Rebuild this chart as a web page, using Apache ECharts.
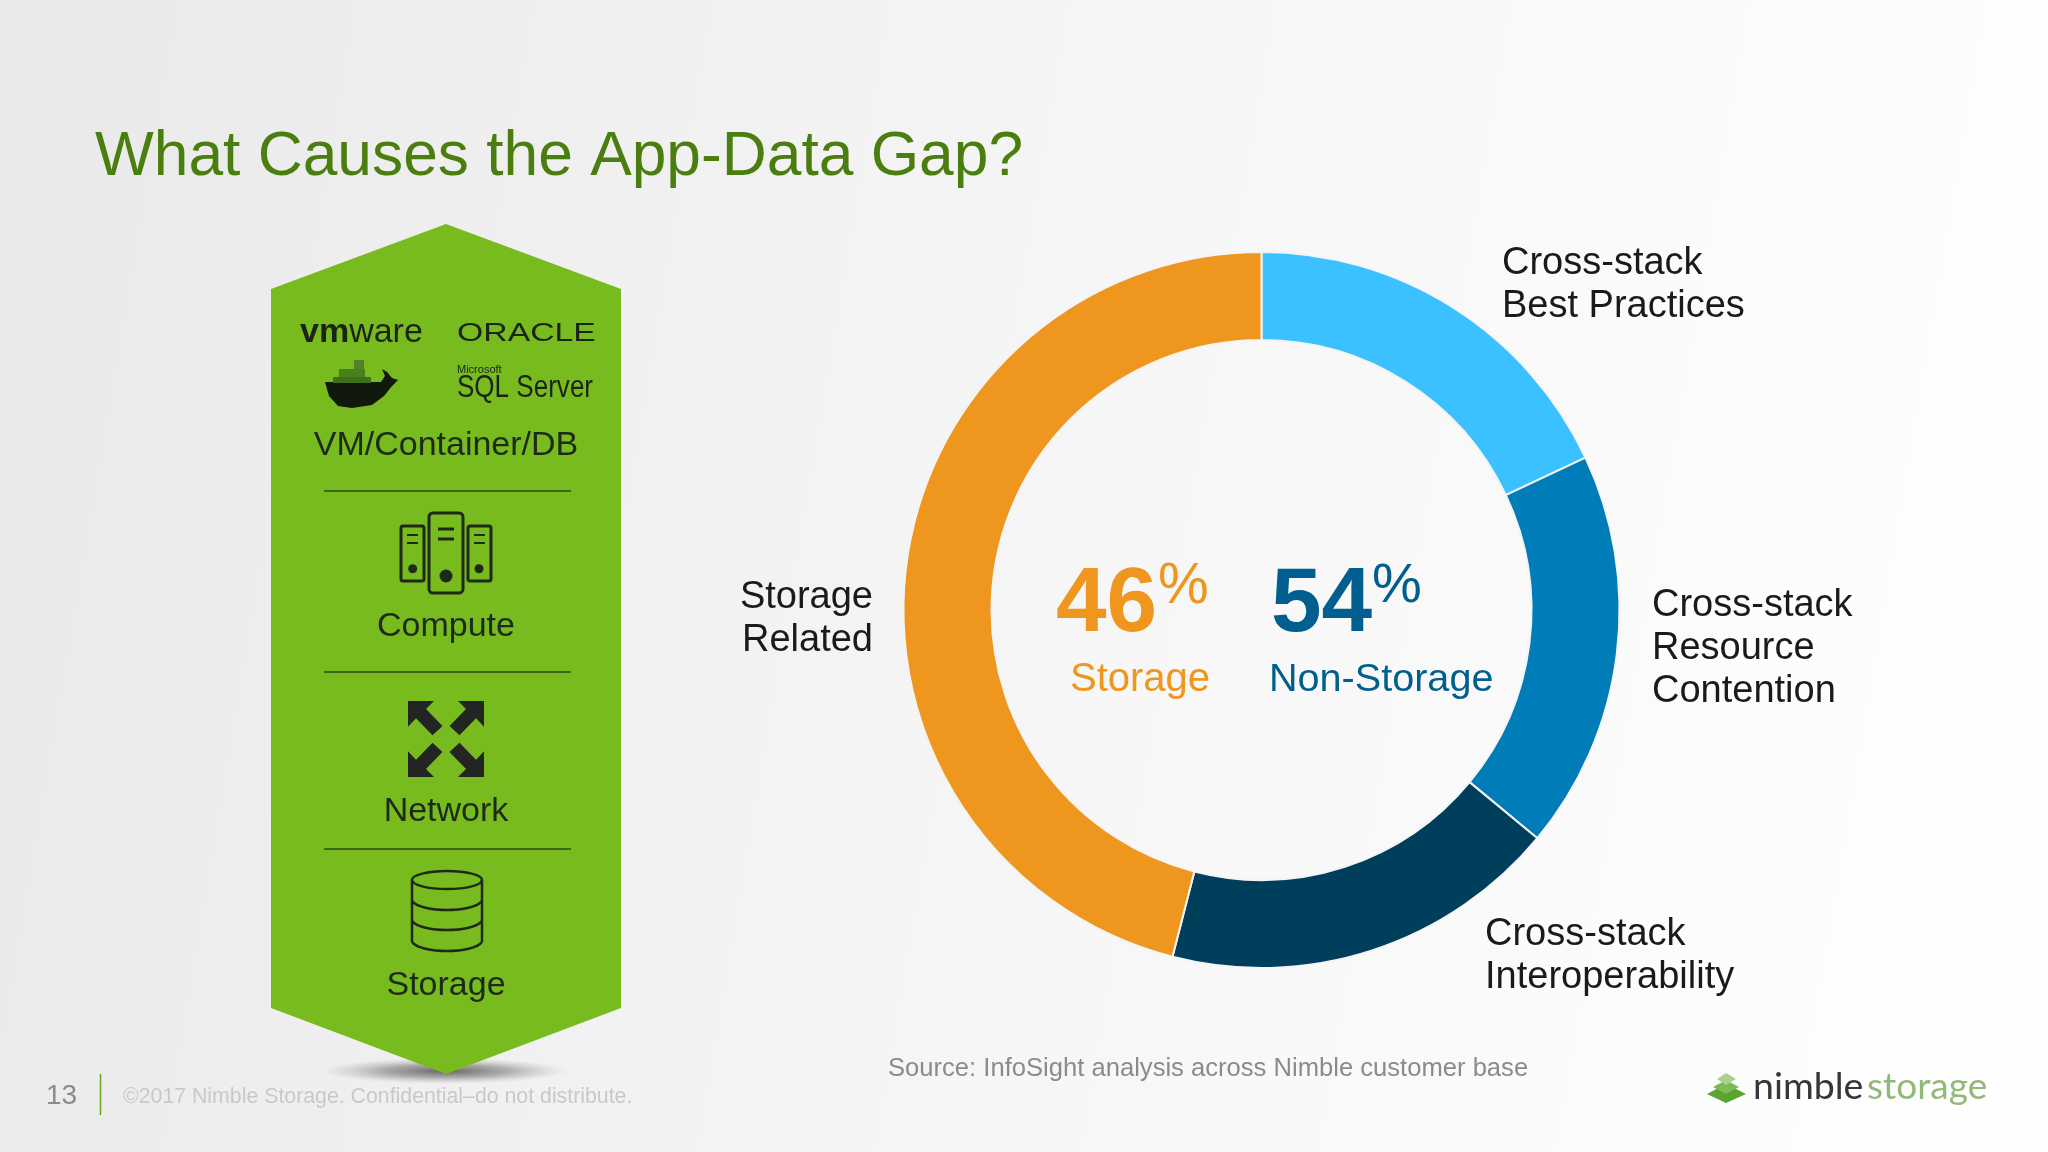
<!DOCTYPE html>
<html>
<head>
<meta charset="utf-8">
<title>What Causes the App-Data Gap?</title>
<script src="https://cdn.jsdelivr.net/npm/echarts@6/dist/echarts.min.js"></script>
<style>
  html, body { margin: 0; padding: 0; background: #f5f5f5; }
  #main { width: 2048px; height: 1152px; }
</style>
</head>
<body>
<div id="main"></div>
<script>
// 图表数据
var categories = ['Cross-stack\nBest Practices', 'Cross-stack\nResource\nContention', 'Cross-stack\nInteroperability', 'Storage\nRelated'];
var shares = [18, 18, 18, 46];
var sliceColors = ['#3bc1ff', '#007cb9', '#003f5c', '#ee961e'];
var storageShare = 46;
var nonStorageShare = 54;
var stackLabels = ['VM/Container/DB', 'Compute', 'Network', 'Storage'];

var FONT = '"Liberation Sans", Arial, sans-serif';
var DARK = '#1e2a17';
var myChart = echarts.init(document.getElementById('main'));

function label(text, x, y, size, color, align, weight, family) {
  return {
    type: 'text',
    z: 10,
    style: {
      text: text, x: x, y: y,
      font: (weight || 'normal') + ' ' + size + 'px ' + (family || FONT),
      fill: color,
      textAlign: align || 'center',
      textVerticalAlign: 'middle'
    }
  };
}

// 横向拉伸的文字（厂商标志用）
function stretched(text, x, y, size, sx) {
  return {
    type: 'text', z: 10, scaleX: sx, x: x, y: y,
    style: { text: text, x: 0, y: 0, font: 'normal ' + size + 'px ' + FONT, fill: '#1b2413', textAlign: 'left', textVerticalAlign: 'middle' }
  };
}

function line(x1, y1, x2, y2, color, w) {
  return {
    type: 'line', z: 6,
    shape: { x1: x1, y1: y1, x2: x2, y2: y2 },
    style: { stroke: color, lineWidth: w }
  };
}

function box(x, y, w, h, r) {
  return {
    type: 'rect', z: 6,
    shape: { x: x, y: y, width: w, height: h, r: r },
    style: { fill: 'none', stroke: DARK, lineWidth: 3 }
  };
}

function dot(x, y, r) {
  return { type: 'circle', z: 6, shape: { cx: x, cy: y, r: r }, style: { fill: DARK } };
}

function poly(points, color) {
  return { type: 'polygon', z: 6, shape: { points: points }, style: { fill: color } };
}

//服务器图标
function computeIcon() {
  var out = [box(401, 526, 23, 55, 2), box(429, 513, 34, 80, 4), box(468, 526, 23, 55, 2)];
  out.push(line(407, 535, 418, 535, DARK, 2), line(407, 543, 418, 543, DARK, 2), dot(412.7, 568.7, 4.5));
  out.push(line(438, 529, 454, 529, DARK, 3), line(438, 539, 454, 539, DARK, 3), dot(446, 576, 6.5));
  out.push(line(474, 535, 485, 535, DARK, 2), line(474, 543, 485, 543, DARK, 2), dot(479, 568.7, 4.5));
  return out;
}

//四向箭头
function networkIcon() {
  var arrow = [[-38, -38], [-12, -38], [-20, -30], [-3.5, -13], [-13.5, -3.7], [-30, -20.7], [-38, -12.3]];
  var out = [];
  [[1, 1], [-1, 1], [1, -1], [-1, -1]].forEach(function (s) {
    out.push(poly(arrow.map(function (p) {
      return [446 + p[0] * s[0], 739 + p[1] * s[1]];
    }), '#222522'));
  });
  return out;
}

//数据库图标
function band(y) {
  return {
    type: 'bezierCurve', z: 6,
    shape: { x1: 412, y1: y, x2: 482, y2: y, cpx1: 421, cpy1: y + 12, cpx2: 473, cpy2: y + 12 },
    style: { fill: 'none', stroke: DARK, lineWidth: 2.5 }
  };
}

function storageIcon() {
  return [
    {
      type: 'ellipse', z: 6,
      shape: { cx: 447, cy: 880, rx: 35, ry: 9 },
      style: { fill: 'none', stroke: DARK, lineWidth: 2.5 }
    },
    line(412, 880, 412, 942, DARK, 2.5),
    line(482, 880, 482, 942, DARK, 2.5),
    band(901), band(921), band(942)
  ];
}

//鲸鱼图标
function dockerIcon() {
  var c = '#11180e';
  return [
    poly([[325, 382], [381, 382], [385, 376], [382, 369], [387, 372], [392, 378], [398, 380], [392, 386], [384, 396], [372, 405], [352, 408], [338, 406], [329, 396]], c),
    { type: 'rect', z: 6, shape: { x: 333, y: 377, width: 38, height: 6 }, style: { fill: '#3f6e1c' } },
    { type: 'rect', z: 6, shape: { x: 339, y: 369, width: 26, height: 8 }, style: { fill: '#4a7f20' } },
    { type: 'rect', z: 6, shape: { x: 354, y: 360, width: 10, height: 9 }, style: { fill: '#567f2a' } }
  ];
}

//右下角绿色标志
function logoMark() {
  return [
    poly([[1707, 1094], [1726, 1084], [1746, 1094], [1726, 1103]], '#5aa532'),
    poly([[1713, 1087], [1726, 1080], [1739, 1087], [1726, 1094]], '#7dbb55'),
    poly([[1717, 1079], [1726, 1073], [1736, 1079], [1726, 1085]], '#a9d28d')
  ];
}

var graphics = [
  // 六边形下方的阴影
  {
    type: 'circle', z: 1, scaleX: 9.5, x: 445, y: 1071,
    shape: { cx: 0, cy: 0, r: 13 },
    style: {
      fill: new echarts.graphic.RadialGradient(0.5, 0.5, 0.5, [
        { offset: 0, color: 'rgba(85,85,85,0.9)' },
        { offset: 0.5, color: 'rgba(125,125,125,0.6)' },
        { offset: 1, color: 'rgba(170,170,170,0)' }
      ])
    }
  },
  {
    type: 'polygon', z: 2,
    shape: { points: [[446, 224], [621, 289], [621, 1008], [446, 1074], [271, 1008], [271, 289]] },
    style: { fill: '#78bb1f' }
  },
  line(324, 491, 571, 491, '#2c4a12', 1.5),
  line(324, 672, 571, 672, '#2c4a12', 1.5),
  line(324, 849, 571, 849, '#2c4a12', 1.5),

  // 厂商文字
  {
    type: 'text', z: 10,
    style: {
      x: 300, y: 333, textVerticalAlign: 'middle', fill: '#1b2413',
      text: '{a|vm}{b|ware}',
      rich: {
        a: { font: 'bold 34px ' + FONT, fill: '#1b2413' },
        b: { font: 'normal 34px ' + FONT, fill: '#1b2413' }
      }
    }
  },
  stretched('ORACLE', 457, 334, 25, 1.35),
  label('Microsoft', 457, 370, 11, '#1b2413', 'left'),
  stretched('SQL Server', 457, 388, 31, 0.84),

  label(stackLabels[0], 446, 446, 34, DARK),
  label(stackLabels[1], 446, 627, 34, DARK),
  label(stackLabels[2], 446, 812, 34, DARK),
  label(stackLabels[3], 446, 986, 34, DARK),

  // 中间的百分比
  label(storageShare, 1056, 606, 91, '#ee961e', 'left', 'bold'),
  label('%', 1158, 587, 57, '#ee961e', 'left'),
  label('Storage', 1070, 680, 40, '#ee961e', 'left'),
  label(nonStorageShare, 1271, 606, 91, '#005f8f', 'left', 'bold'),
  label('%', 1372, 587, 56, '#005f8f', 'left'),
  label('Non-Storage', 1269, 680, 39.6, '#005f8f', 'left'),

  // 页脚
  label('Source: InfoSight analysis across Nimble customer base', 888, 1069, 25.6, '#8b8b8b', 'left'),
  label('13', 46, 1096, 28, '#8b8b8b', 'left'),
  line(100.5, 1074, 100.5, 1115, '#6aa51e', 1.5),
  label('©2017 Nimble Storage. Confidential–do not distribute.', 123, 1097, 21.3, '#c9c9c9', 'left'),
  label('nimble', 1753, 1087, 37.5, '#33363a', 'left', 'normal', 'Lato, ' + FONT),
  label('storage', 1867, 1087, 37, '#93b97a', 'left', 'normal', 'Lato, ' + FONT)
].concat(computeIcon(), networkIcon(), storageIcon(), dockerIcon(), logoMark());

// 扇区标签位置
var labelSpots = [
  { x: 1502, y: 285, align: 'left' },
  { x: 1652, y: 649, align: 'left' },
  { x: 1485, y: 956, align: 'left' },
  { x: 873, y: 619, align: 'right' }
];

var option = {
  animation: false,
  backgroundColor: new echarts.graphic.LinearGradient(0, 0, 1, 0.3, [
    { offset: 0, color: '#e9e9e9' },
    { offset: 0.55, color: '#f6f6f7' },
    { offset: 1, color: '#fefefe' }
  ]),
  title: {
    text: 'What Causes the App-Data Gap?',
    left: 90,
    top: 122,
    textStyle: { color: '#4a7e0e', fontFamily: FONT, fontWeight: 'normal', fontSize: 62.3 }
  },
  tooltip: { show: false },
  legend: { show: false },
  series: [{
    type: 'pie',
    center: [1261.5, 610],
    radius: [270, 358],
    startAngle: 90,
    clockwise: true,
    silent: true,
    itemStyle: {
      borderColor: '#f4f4f4',
      borderWidth: 2,
      color: function (p) { return sliceColors[p.dataIndex]; }
    },
    label: {
      show: true,
      position: 'outside',
      formatter: '{b}',
      color: '#1a1a1a',
      fontFamily: FONT,
      fontSize: 38,
      lineHeight: 43,
      letterSpacing: -0.5
    },
    labelLine: { show: false },
    labelLayout: function (params) {
      var s = labelSpots[params.dataIndex];
      return { x: s.x, y: s.y, align: s.align, verticalAlign: 'middle', hideOverlap: false };
    },
    data: categories.map(function (name, i) {
      return { name: name, value: shares[i] };
    })
  }],
  graphic: { elements: graphics }
};

myChart.setOption(option);
</script>
</body>
</html>
